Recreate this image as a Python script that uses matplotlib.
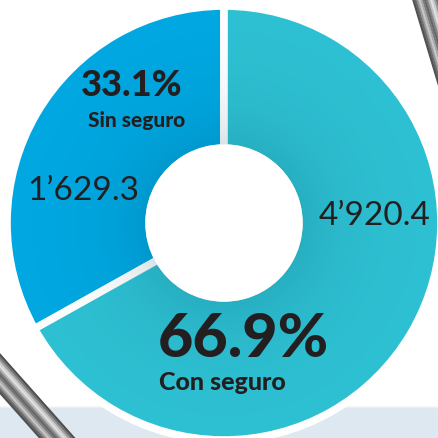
import matplotlib.pyplot as plt
import numpy as np

# poblacion (miles) y porcentajes
labels = ['Sin seguro', 'Con seguro']
shares = [33.1, 66.9]
value_text = ['1\u2019629.3', '4\u2019920.4']
pct_text = ['33.1%', '66.9%']
colors = ['#00A8E2', '#2EC1D3']

W = 438
fig = plt.figure(figsize=(4.38, 4.38), dpi=100)
ax = fig.add_axes([0, 0, 1, 1])

# light band at the bottom
ax.axhspan(0, W - 407, color='#DDE8F1', zorder=0)
ax.axhline(W - 407, color='#EEF1DF', lw=1, zorder=0)

# metal rods, drawn as strips of grey (pixel coords, y down)
profile = [0.30, 0.45, 0.62, 0.80, 0.88, 0.72, 0.52, 0.40, 0.48, 0.66, 0.78, 0.60, 0.42, 0.32]

def rod(p0, p1, w):
	p0, p1 = np.array(p0, float), np.array(p1, float)
	d = (p1 - p0) / np.hypot(*(p1 - p0))
	n = np.array([-d[1], d[0]])
	step = w / len(profile)
	for i, g in enumerate(profile):
		off = n * ((i + 0.5) * step - w / 2)
		a, b = p0 + off, p1 + off
		ax.plot([a[0], b[0]], [W - a[1], W - b[1]], color=str(g), lw=step * 0.72 + 0.3,
				solid_capstyle='butt', zorder=1)

rod((393, -110), (483, 190), 26)
rod((-110, 250), (130, 520), 27)

cx, cy = 224, W - 223
R, r = 217, 75
wedges, _ = ax.pie(shares, colors=colors, startangle=90, counterclock=True,
				   center=(cx, cy), radius=R, frame=True,
				   wedgeprops=dict(width=R - r, edgecolor='white', linewidth=5.5))
for wd in wedges:
	wd.set_zorder(2)

# soft shadow around the hole
xx, yy = np.meshgrid(np.arange(W) + 0.5, np.arange(W) + 0.5)
rho = np.hypot(xx - cx, yy - cy)
alpha = np.clip(0.16 * np.exp(-(rho - r) / 45.0), 0, 0.16)
shade = np.zeros((W, W, 4))
shade[..., 1] = 0.25
shade[..., 2] = 0.35
shade[..., 3] = alpha
for wd in wedges:
	im = ax.imshow(shade, extent=(0, W, 0, W), origin='lower', zorder=3, interpolation='bilinear')
	im.set_clip_path(wd)
ax.add_patch(plt.Circle((cx, cy), r + 3.6, color='white', lw=0, zorder=4))

ax.set_xlim(0, W)
ax.set_ylim(0, W)
ax.set_aspect('equal')
ax.axis('off')

tc = '#231F20'
ax.text(132, W - 86, pct_text[0], fontsize=26, fontweight='black', family='Lato', color=tc,
		ha='center', va='center', zorder=5)
ax.text(137, W - 120, labels[0], fontsize=15, fontweight='black', family='Lato', color=tc,
		ha='center', va='center', zorder=5)
ax.text(83, W - 191, value_text[0], fontsize=24, family='Lato', color=tc,
		ha='center', va='center', zorder=5)
ax.text(375, W - 216, value_text[1], fontsize=24, family='Lato', color=tc,
		ha='center', va='center', zorder=5)
ax.text(243, W - 339, pct_text[1], fontsize=44, fontweight='black', family='Lato', color=tc,
		ha='center', va='center', zorder=5)
ax.text(159, W - 382, labels[1], fontsize=18, fontweight='black', family='Lato', color=tc,
		ha='left', va='center', zorder=5)

fig.savefig('out.png', dpi=100)
